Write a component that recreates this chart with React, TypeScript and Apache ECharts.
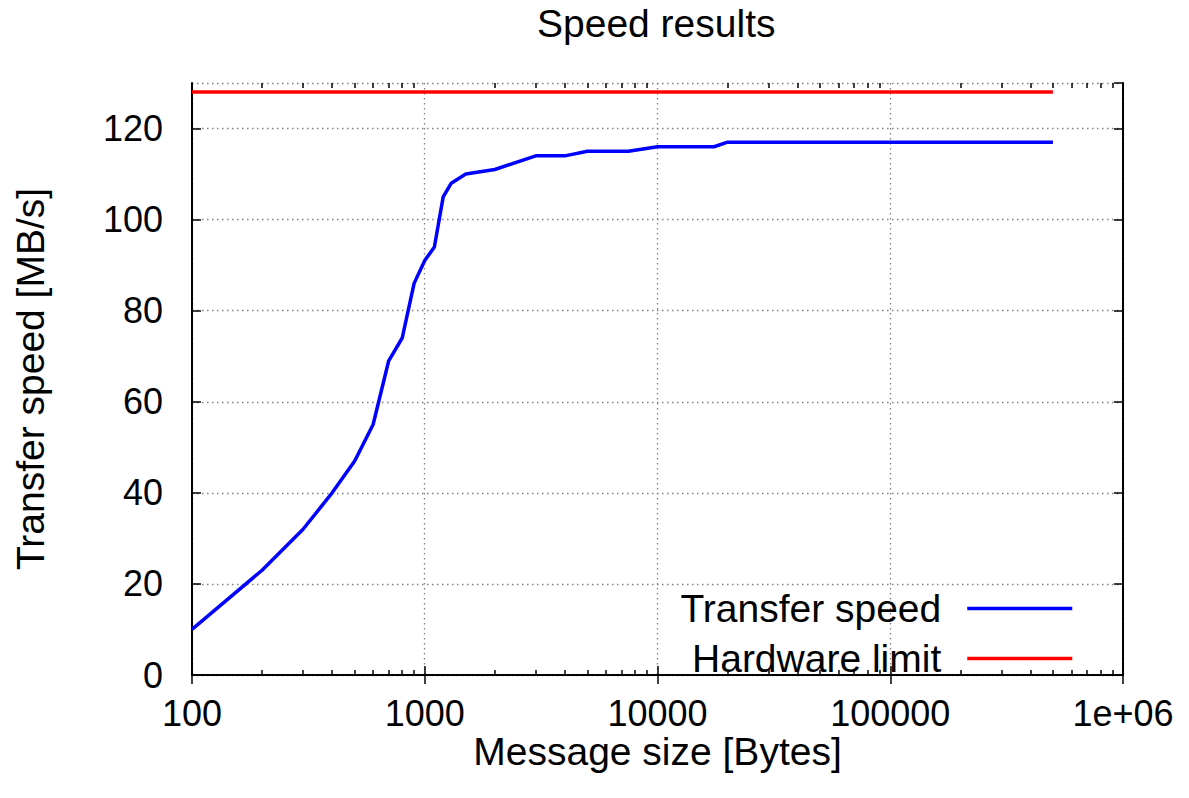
import React, { useEffect, useRef } from "react";
import * as echarts from "echarts";

const messageSizes = [100, 200, 300, 400, 500, 600, 700, 800, 900, 1000, 1100, 1200, 1300, 1500, 2000, 3000, 4000, 5000, 7500, 10000, 17500, 20000, 50000, 100000, 200000, 500000];
const transferSpeeds = [10, 23, 32, 40, 47, 55, 69, 74, 86, 91, 94, 105, 108, 110, 111, 114, 114, 115, 115, 116, 116, 117, 117, 117, 117, 117];
const limitSizes = [100, 500000];
const limitSpeeds = [128, 128];
const yTicks = [0, 20, 40, 60, 80, 100, 120];
const decades = [100, 1000, 10000, 100000];
const minorMultipliers = [2, 3, 4, 5, 6, 7, 8, 9];

const FONT = "'Liberation Sans', Arial, Helvetica, sans-serif";

export default function App() {
  const ref = useRef<HTMLDivElement>(null);
  useEffect(() => {
    if (!ref.current) return;
    const chart = echarts.init(ref.current, undefined, { renderer: "svg" });
    const minorTickLogs: number[] = [];
    decades.forEach((d) => minorMultipliers.forEach((m) => minorTickLogs.push(Math.log10(d * m))));

    const minorAxis = (position: "top" | "bottom") => ({
      type: "value",
      position,
      min: 2,
      max: 6,
      axisLine: { show: false },
      axisLabel: { show: false },
      splitLine: { show: false },
      axisTick: {
        show: true,
        inside: true,
        length: 5,
        customValues: minorTickLogs,
        lineStyle: { color: "#000", width: 1.5 },
      },
    });

    chart.setOption({
      animation: false,
      backgroundColor: "#fff",
      textStyle: { fontFamily: FONT },
      title: {
        text: "Speed results",
        left: 537,
        top: 4,
        padding: 0,
        textStyle: { fontFamily: FONT, fontSize: 39, fontWeight: "normal", color: "#000" },
      },
      legend: {
        orient: "vertical",
        align: "right",
        right: 115,
        top: 589,
        padding: 0,
        itemWidth: 105,
        itemHeight: 30,
        itemGap: 11,
        data: ["Transfer speed", "Hardware limit"],
        itemStyle: { opacity: 0 },
        lineStyle: { width: 3.5 },
        textStyle: { fontFamily: FONT, fontSize: 39, color: "#000", padding: [0, 21, 0, 0] },
      },
      grid: { left: 192, top: 83, right: 66, bottom: 123, containLabel: false, outerBoundsMode: "none" },
      xAxis: [
        {
          type: "log",
          logBase: 10,
          min: 100,
          max: 1000000,
          position: "bottom",
          name: "Message size [Bytes]",
          nameLocation: "middle",
          nameGap: 57,
          nameMoveOverlap: false,
          nameTextStyle: { fontFamily: FONT, fontSize: 39, lineHeight: 38, color: "#000" },
          axisLine: { show: true, lineStyle: { color: "#000", width: 2 } },
          axisTick: { show: true, inside: true, length: 9, lineStyle: { color: "#000", width: 1.5 } },
          axisLabel: {
            fontFamily: FONT,
            fontSize: 36,
            lineHeight: 30,
            color: "#000",
            margin: 23,
            formatter: (v: number) => (v >= 1000000 ? "1e+06" : String(v)),
          },
          splitLine: { show: true, lineStyle: { color: "#808080", type: [1.5, 3.5], width: 1.3 } },
          minorTick: { show: false },
        },
        {
          type: "log",
          logBase: 10,
          min: 100,
          max: 1000000,
          position: "top",
          axisLine: { show: true, lineStyle: { color: "#000", width: 2 } },
          axisTick: { show: true, inside: true, length: 9, lineStyle: { color: "#000", width: 1.5 } },
          axisLabel: { show: false },
          splitLine: { show: false },
        },
        minorAxis("bottom"),
        minorAxis("top"),
      ],
      yAxis: [
        {
          type: "value",
          min: 0,
          max: 130,
          interval: 20,
          position: "left",
          name: "Transfer speed [MB/s]",
          nameLocation: "middle",
          nameGap: 142,
          nameMoveOverlap: false,
          nameTextStyle: { fontFamily: FONT, fontSize: 39, color: "#000" },
          axisLine: { show: true, lineStyle: { color: "#000", width: 2 } },
          axisTick: { show: true, inside: true, length: 9, lineStyle: { color: "#000", width: 1.5 } },
          axisLabel: {
            fontFamily: FONT,
            fontSize: 36,
            color: "#000",
            margin: 29,
            showMaxLabel: false,
            formatter: (v: number) => (yTicks.includes(v) ? String(v) : ""),
          },
          splitLine: { show: true, lineStyle: { color: "#808080", type: [1.5, 3.5], width: 1.3 } },
        },
        {
          type: "value",
          min: 0,
          max: 130,
          interval: 20,
          position: "right",
          axisLine: { show: true, lineStyle: { color: "#000", width: 2 } },
          axisTick: { show: true, inside: true, length: 9, lineStyle: { color: "#000", width: 1.5 } },
          axisLabel: { show: false },
          splitLine: { show: false },
        },
      ],
      series: [
        {
          name: "Transfer speed",
          type: "line",
          xAxisIndex: 0,
          yAxisIndex: 0,
          symbol: "none",
          showSymbol: false,
          data: messageSizes.map((s, i) => [s, transferSpeeds[i]]),
          lineStyle: { color: "#0000ff", width: 3.5 },
          itemStyle: { color: "#0000ff" },
          z: 3,
        },
        {
          name: "Hardware limit",
          type: "line",
          xAxisIndex: 0,
          yAxisIndex: 0,
          symbol: "none",
          showSymbol: false,
          data: limitSizes.map((s, i) => [s, limitSpeeds[i]]),
          lineStyle: { color: "#ff0000", width: 3.5 },
          itemStyle: { color: "#ff0000" },
          z: 3,
        },
      ],
    });
    return () => chart.dispose();
  }, []);
  return <div ref={ref} style={{ width: 1189, height: 798, position: "absolute", left: 0, top: 0 }} />;
}
